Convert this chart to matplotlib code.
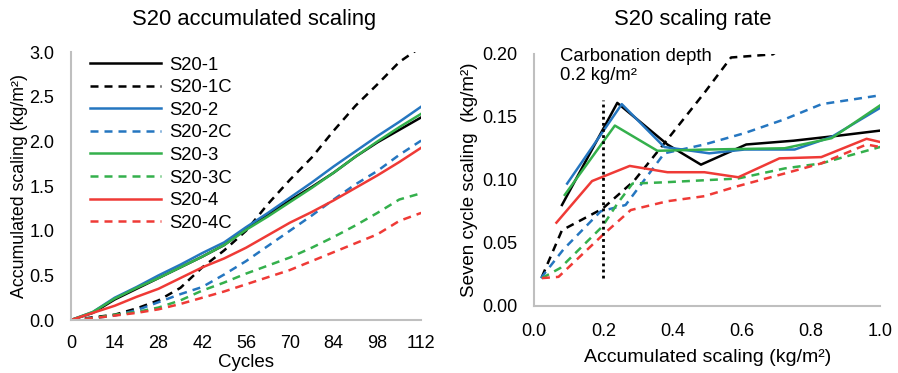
import matplotlib
matplotlib.use("Agg")
import matplotlib.pyplot as plt

plt.rcParams["font.family"] = ["Liberation Sans", "DejaVu Sans"]

# ── Left panel: accumulated scaling vs cycles ─────────────
cycles = [0, 7, 14, 21, 28, 35, 42, 49, 56, 63, 70, 77, 84, 91, 98, 105, 112]
acc = {
    "S20-1":  [0, 0.08, 0.23, 0.35, 0.47, 0.59, 0.71, 0.84, 1.02, 1.18, 1.34, 1.49, 1.65, 1.83, 1.99, 2.13, 2.27],
    "S20-1C": [0, 0.03, 0.06, 0.13, 0.22, 0.36, 0.59, 0.78, 1.00, 1.30, 1.57, 1.82, 2.12, 2.40, 2.64, 2.89, 3.06],
    "S20-2":  [0, 0.09, 0.25, 0.37, 0.50, 0.62, 0.75, 0.87, 1.04, 1.20, 1.37, 1.54, 1.72, 1.89, 2.06, 2.22, 2.39],
    "S20-2C": [0, 0.02, 0.05, 0.11, 0.20, 0.29, 0.37, 0.51, 0.66, 0.83, 1.00, 1.17, 1.35, 1.52, 1.67, 1.85, 2.01],
    "S20-3":  [0, 0.09, 0.24, 0.36, 0.47, 0.59, 0.71, 0.84, 1.01, 1.16, 1.32, 1.48, 1.65, 1.83, 2.00, 2.16, 2.31],
    "S20-3C": [0, 0.02, 0.06, 0.09, 0.14, 0.22, 0.33, 0.42, 0.52, 0.61, 0.70, 0.81, 0.93, 1.06, 1.20, 1.35, 1.42],
    "S20-4":  [0, 0.08, 0.16, 0.26, 0.35, 0.47, 0.59, 0.69, 0.81, 0.95, 1.09, 1.21, 1.34, 1.48, 1.62, 1.77, 1.93],
    "S20-4C": [0, 0.02, 0.05, 0.08, 0.12, 0.18, 0.25, 0.32, 0.40, 0.48, 0.56, 0.66, 0.76, 0.86, 0.96, 1.11, 1.20],
}

# ── Right panel: seven cycle scaling vs accumulated scaling ─
rate = {
    "S20-1":  ([0.080, 0.240, 0.385, 0.482, 0.613, 0.75, 0.88, 1.0, 1.12],
               [0.080, 0.161, 0.128, 0.112, 0.128, 0.131, 0.135, 0.139, 0.140]),
    "S20-1C": ([0.022, 0.080, 0.197, 0.288, 0.385, 0.492, 0.569, 0.690, 0.85],
               [0.023, 0.060, 0.077, 0.099, 0.132, 0.169, 0.197, 0.1995, 0.23]),
    "S20-2":  ([0.095, 0.253, 0.376, 0.506, 0.608, 0.753, 0.860, 1.0, 1.1],
               [0.097, 0.160, 0.126, 0.121, 0.124, 0.124, 0.134, 0.157, 0.170]),
    "S20-2C": ([0.019, 0.085, 0.192, 0.264, 0.376, 0.492, 0.608, 0.724, 0.831, 1.0, 1.1],
               [0.022, 0.045, 0.075, 0.080, 0.121, 0.128, 0.137, 0.148, 0.160, 0.167, 0.170]),
    "S20-3":  ([0.088, 0.233, 0.356, 0.500, 0.724, 0.860, 1.0, 1.1],
               [0.088, 0.143, 0.123, 0.124, 0.125, 0.133, 0.159, 0.175]),
    "S20-3C": ([0.022, 0.075, 0.197, 0.240, 0.284, 0.376, 0.589, 0.724, 0.830, 1.0, 1.1],
               [0.022, 0.030, 0.063, 0.081, 0.097, 0.098, 0.101, 0.109, 0.113, 0.126, 0.130]),
    "S20-4":  ([0.064, 0.167, 0.276, 0.385, 0.492, 0.590, 0.709, 0.830, 0.961, 1.0, 1.1],
               [0.066, 0.099, 0.111, 0.106, 0.106, 0.102, 0.117, 0.118, 0.1325, 0.130, 0.128]),
    "S20-4C": ([0.022, 0.070, 0.197, 0.279, 0.385, 0.492, 0.589, 0.724, 0.830, 0.961, 1.0, 1.1],
               [0.022, 0.023, 0.056, 0.076, 0.083, 0.087, 0.095, 0.105, 0.113, 0.128, 0.126, 0.124]),
}

carb_x = 0.2
carb_y = [0.022, 0.163]

styles = {
    "S20-1":  ("#000000", "-"),
    "S20-1C": ("#000000", "--"),
    "S20-2":  ("#2576c0", "-"),
    "S20-2C": ("#2576c0", "--"),
    "S20-3":  ("#34b04c", "-"),
    "S20-3C": ("#34b04c", "--"),
    "S20-4":  ("#ef3a36", "-"),
    "S20-4C": ("#ef3a36", "--"),
}
dash = (3.2, 2.4)


def style_axes(ax):
    for s in ("top", "right"):
        ax.spines[s].set_visible(False)
    for s in ("left", "bottom"):
        ax.spines[s].set_color("#bfbfbf")
        ax.spines[s].set_linewidth(1.5)
    ax.tick_params(length=0, labelsize=13, pad=12)


fig = plt.figure(figsize=(8.98, 3.73), dpi=100)

# ── Left ──
ax1 = fig.add_axes([0.079, 0.142, 0.390, 0.718])
for name, vals in acc.items():
    c, ls = styles[name]
    line, = ax1.plot(cycles, vals, color=c, lw=1.8, ls=ls, label=name)
    if ls == "--":
        line.set_dashes(dash)
ax1.set_xlim(0, 112)
ax1.set_ylim(0, 3.0)
ax1.set_xticks(range(0, 113, 14))
ax1.set_yticks([0, 0.5, 1.0, 1.5, 2.0, 2.5, 3.0])
ax1.yaxis.set_major_formatter(plt.FormatStrFormatter("%.1f"))
style_axes(ax1)
ax1.tick_params(axis="x", pad=11)
ax1.set_xlabel("Cycles", fontsize=13.5, labelpad=1)
ax1.set_ylabel("Accumulated scaling (kg/m²)", fontsize=12.8, labelpad=1)
fig.text(254 / 898, 1 - 25 / 373, "S20 accumulated scaling", fontsize=15.8,
         ha="center", va="baseline")
ax1.legend(loc="upper left", bbox_to_anchor=(0.008, 1.045), frameon=False,
           fontsize=13.3, handlelength=3.8, labelspacing=0.3, handletextpad=0.45)

# ── Right ──
ax2 = fig.add_axes([0.595, 0.180, 0.385, 0.676])
for name, (xs, ys) in rate.items():
    c, ls = styles[name]
    line, = ax2.plot(xs, ys, color=c, lw=1.8, ls=ls)
    if ls == "--":
        line.set_dashes(dash)
ax2.plot([carb_x, carb_x], carb_y, color="black", lw=2, ls=(0, (1, 1.2)))
ax2.text(0.075, 0.2045, "Carbonation depth\n0.2 kg/m²", fontsize=13.3,
         va="top", ha="left", linespacing=1.15)
ax2.set_xlim(0, 1.0)
ax2.set_ylim(0, 0.20)
ax2.set_xticks([0, 0.2, 0.4, 0.6, 0.8, 1.0])
ax2.set_yticks([0, 0.05, 0.10, 0.15, 0.20])
ax2.xaxis.set_major_formatter(plt.FormatStrFormatter("%.1f"))
ax2.yaxis.set_major_formatter(plt.FormatStrFormatter("%.2f"))
style_axes(ax2)
ax2.set_xlabel("Accumulated scaling (kg/m²)", fontsize=14, labelpad=7)
ax2.set_ylabel("Seven cycle scaling  (kg/m²)", fontsize=13.5, labelpad=3)
fig.text(693 / 898, 1 - 25 / 373, "S20 scaling rate", fontsize=15.8,
         ha="center", va="baseline")

fig.savefig("out.png", dpi=100)
